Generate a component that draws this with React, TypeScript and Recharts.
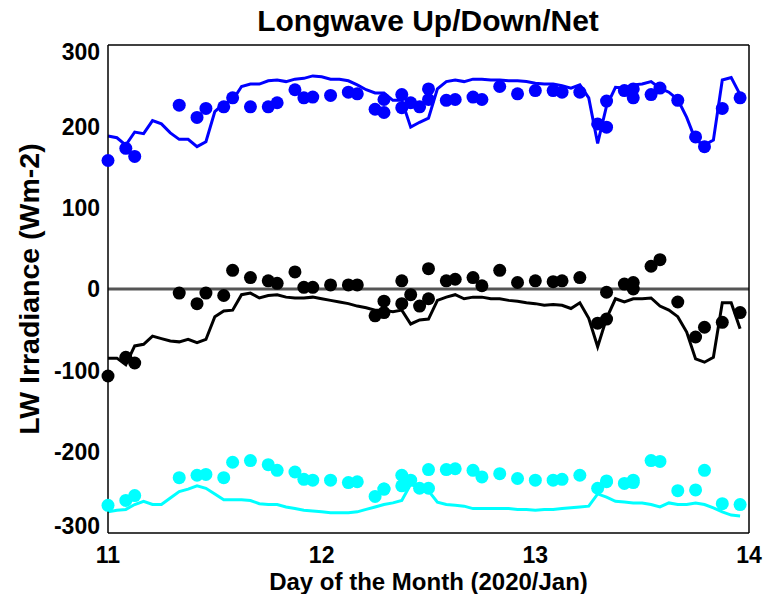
import {
  ComposedChart,
  Line,
  Scatter,
  XAxis,
  YAxis,
  ReferenceLine
} from 'recharts'

// hourly model values, Jan 11 00:00 .. Jan 13 23:00
const dnLine = [
  188, 186, 177, 193, 191, 207, 203, 192, 184, 184, 175, 181,
  218, 228, 232, 249, 252, 252, 256, 257, 255, 258, 259, 262,
  261, 258, 258, 256, 251, 245, 241, 241, 232, 232, 199, 205,
  210, 246, 255, 257, 255, 258, 258, 257, 257, 256, 256, 255,
  253, 252, 252, 250, 247, 251, 235, 179, 225, 248, 247, 251,
  252, 255, 247, 242, 233, 211, 183, 177, 183, 257, 260, 239
]
const upLine = [
  -274, -272, -271, -265, -261, -265, -265, -257, -249, -246, -242, -245,
  -252, -259, -259, -259, -260, -264, -265, -265, -268, -270, -272, -273,
  -274, -275, -275, -275, -274, -271, -268, -265, -263, -260, -240, -245,
  -248, -262, -265, -266, -267, -270, -270, -270, -270, -270, -271, -271,
  -272, -271, -271, -270, -269, -268, -267, -252, -256, -261, -262, -263,
  -263, -265, -268, -263, -265, -265, -263, -265, -269, -274, -278, -279
]
const netLine = [
  -85, -85, -93, -70, -68, -58, -61, -64, -65, -62, -66, -62,
  -34, -27, -26, -7, -5, -11, -8, -7, -10, -11, -11, -10,
  -12, -14, -16, -18, -21, -23, -26, -26, -28, -26, -43, -38,
  -37, -14, -10, -7, -12, -10, -10, -12, -12, -14, -15, -17,
  -18, -20, -19, -20, -24, -17, -36, -71, -36, -12, -16, -12,
  -12, -11, -21, -26, -34, -53, -86, -90, -84, -17, -17, -49
]

// observed points (hour since Jan 11 00:00)
const ptHour = [
  0, 2, 3, 8, 10, 11, 13, 14, 16, 18, 19, 21, 22, 23, 25, 27, 28, 30, 31, 31,
  33, 33, 34, 35, 36, 36, 38, 39, 41, 42, 44, 46, 48, 50, 51, 53, 55, 56, 56,
  58, 59, 59, 61, 62, 64, 66, 67, 69, 71
]
const ptDn = [
  158, 173, 163, 226, 211, 222, 224, 235, 224, 224, 229, 245, 235, 236, 238, 242, 240, 221, 233, 217,
  239, 223, 229, 224, 246, 233, 232, 233, 236, 233, 249, 240, 244, 244, 242, 242, 203, 231, 199,
  244, 246, 235, 239, 247, 232, 187, 175, 222, 235
]
const ptUp = [
  -266, -260, -254, -232, -229, -228, -232, -213, -211, -216, -223, -225, -234, -235, -235, -238, -237, -255, -246, -246,
  -229, -242, -235, -245, -222, -245, -222, -221, -223, -231, -227, -233, -235, -235, -234, -229, -245, -237, -236,
  -239, -238, -235, -211, -212, -248, -247, -223, -264, -265
]
const ptNet = [
  -107, -84, -91, -5, -18, -5, -8, 23, 14, 10, 7, 21, 2, 2, 5, 5, 5, -33, -15, -29,
  10, -18, -7, -21, 25, -12, 10, 12, 14, 4, 23, 8, 10, 9, 10, 14, -42, -4, -37,
  6, 8, 0, 28, 36, -16, -59, -47, -41, -29
]

const xTicks = [11, 12, 13, 14]
const yTicks = [-300, -200, -100, 0, 100, 200, 300]
const yMinor = Array.from({ length: 61 }, (_, i) => -300 + i * 10)

const FONT = '"Liberation Sans", Arial, Helvetica, sans-serif'

const lineData = dnLine.map((v, i) => ({
  day: 11 + i / 24,
  dn: v,
  up: upLine[i],
  net: netLine[i]
}))

const pts = (vals: number[]) => vals.map((v, i) => ({ day: 11 + ptHour[i] / 24, v }))

const dot = (color: string) => (p: any) =>
  <circle cx={p.cx} cy={p.cy} r={6.5} fill={color} />

function YTick(props: any) {
  const { x, y, payload } = props
  let shift = 0
  if (payload.value === 300) shift = 7
  if (payload.value === -300) shift = -7
  return (
    <text x={x} y={y + shift} dy="0.36em" textAnchor="end" fontSize={23}
      fontWeight="bold" fill="#000" fontFamily={FONT}>
      {payload.value}
    </text>
  )
}

export default function App() {
  return (
    <div style={{ position: 'absolute', left: 0, top: 0, width: 764, height: 594, background: '#fff', fontFamily: FONT }}>

      <div style={{ position: 'absolute', left: 0, width: 764, top: 6, lineHeight: 1, textAlign: 'center', fontSize: 30, fontWeight: 'bold', paddingLeft: 92, boxSizing: 'border-box' }}>
        Longwave Up/Down/Net
      </div>

      <div style={{ position: 'absolute', left: 108, width: 641, top: 570, lineHeight: 1, textAlign: 'center', fontSize: 24, fontWeight: 'bold' }}>
        Day of the Month (2020/Jan)
      </div>

      <div style={{ position: 'absolute', left: 29, top: 289, width: 400, marginLeft: -200, lineHeight: 1, textAlign: 'center', fontSize: 28.5, fontWeight: 'bold', transform: 'translateY(-50%) rotate(-90deg)' }}>
        LW Irradiance (Wm-2)
      </div>

      <ComposedChart width={764} height={594} data={lineData}
        margin={{ top: 45, right: 15, bottom: 0, left: 0 }}>

        <XAxis xAxisId="b" dataKey="day" type="number" domain={[11, 14]} ticks={xTicks}
          interval={0} tickLine={false} tickMargin={8} height={61}
          axisLine={{ stroke: '#000', strokeWidth: 1.5 }}
          tick={{ fontSize: 23, fontWeight: 'bold', fill: '#000', fontFamily: FONT }} />
        <XAxis xAxisId="bm" dataKey="day" type="number" domain={[11, 14]} ticks={xTicks}
          mirror tick={false} tickSize={10} axisLine={false} stroke="#000" />
        <XAxis xAxisId="t" orientation="top" dataKey="day" type="number" domain={[11, 14]} ticks={xTicks}
          mirror tick={false} tickSize={10} axisLine={{ stroke: '#000', strokeWidth: 1.5 }} stroke="#000" />

        <YAxis yAxisId="l" type="number" domain={[-300, 300]} ticks={yTicks} interval={0}
          width={108} tickLine={false} axisLine={{ stroke: '#000', strokeWidth: 1.5 }} tick={<YTick />} />
        <YAxis yAxisId="lm" type="number" domain={[-300, 300]} ticks={yTicks} interval={0}
          mirror tick={false} tickSize={13} axisLine={false} stroke="#000" />
        <YAxis yAxisId="lmm" type="number" domain={[-300, 300]} ticks={yMinor} interval={0}
          mirror tick={false} tickSize={7} axisLine={false} stroke="#000" />
        <YAxis yAxisId="r" orientation="right" type="number" domain={[-300, 300]} ticks={yTicks} interval={0}
          mirror tick={false} tickSize={13} axisLine={{ stroke: '#000', strokeWidth: 1.5 }} stroke="#000" />
        <YAxis yAxisId="rm" orientation="right" type="number" domain={[-300, 300]} ticks={yMinor} interval={0}
          mirror tick={false} tickSize={7} axisLine={false} stroke="#000" />

        <ReferenceLine xAxisId="b" yAxisId="l" y={0} stroke="#555" strokeWidth={3} />

        <Line xAxisId="b" yAxisId="l" dataKey="dn" stroke="#0000ff" strokeWidth={3} dot={false} isAnimationActive={false} />
        <Line xAxisId="b" yAxisId="l" dataKey="net" stroke="#000000" strokeWidth={3} dot={false} isAnimationActive={false} />
        <Line xAxisId="b" yAxisId="l" dataKey="up" stroke="#00ffff" strokeWidth={3} dot={false} isAnimationActive={false} />

        <Scatter xAxisId="b" yAxisId="l" data={pts(ptDn)} dataKey="v" shape={dot('#0000ff')} isAnimationActive={false} />
        <Scatter xAxisId="b" yAxisId="l" data={pts(ptNet)} dataKey="v" shape={dot('#000000')} isAnimationActive={false} />
        <Scatter xAxisId="b" yAxisId="l" data={pts(ptUp)} dataKey="v" shape={dot('#00ffff')} isAnimationActive={false} />

      </ComposedChart>
    </div>
  )
}
